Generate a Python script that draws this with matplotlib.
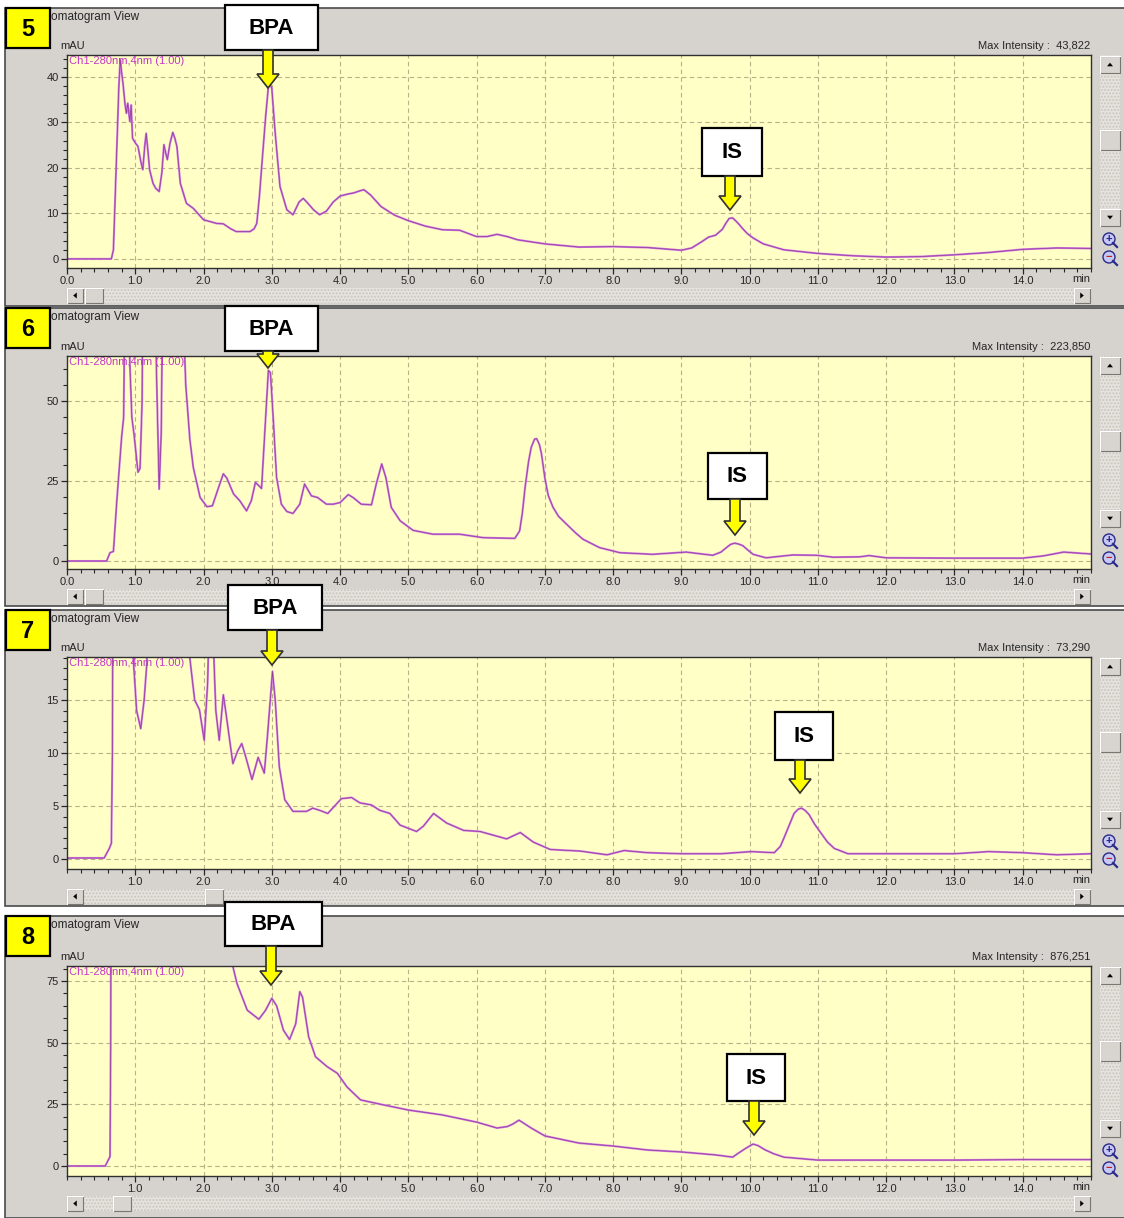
import matplotlib
matplotlib.use("Agg")
import numpy as np
import matplotlib.pyplot as plt
from matplotlib.patches import Rectangle, Polygon, Circle

W, H = 1124, 1218
plt.rcParams['font.family'] = ['Liberation Sans', 'DejaVu Sans']

# ---- chromatogram traces (retention time in min, signal in mAU) ----
rt5 = [0.0, 0.65, 0.68, 0.72, 0.76, 0.78, 0.80, 0.82, 0.85, 0.87, 0.89, 0.92, 0.94, 0.96,
       1.00, 1.04, 1.08, 1.11, 1.14, 1.16, 1.19, 1.21, 1.26, 1.30, 1.35, 1.39, 1.42, 1.45,
       1.47, 1.51, 1.55, 1.58, 1.61, 1.66, 1.75, 1.85, 2.00, 2.19, 2.29, 2.40, 2.48, 2.68,
       2.74, 2.78, 2.82, 2.85, 2.91, 2.95, 2.98, 3.00, 3.05, 3.12, 3.22, 3.31, 3.40, 3.46,
       3.53, 3.61, 3.70, 3.80, 3.90, 4.00, 4.10, 4.20, 4.30, 4.35, 4.45, 4.60, 4.80, 5.00,
       5.25, 5.50, 5.75, 6.00, 6.15, 6.30, 6.45, 6.60, 7.00, 7.50, 8.00, 8.50, 9.00, 9.15,
       9.30, 9.40, 9.50, 9.60, 9.65, 9.70, 9.75, 9.80, 9.85, 9.90, 9.97, 10.05, 10.20,
       10.50, 11.00, 11.50, 12.00, 12.50, 13.00, 13.50, 14.00, 14.50, 15.00]
mau5 = [0, 0, 2, 20, 38, 43.8, 41, 38.6, 34, 32, 34.2, 30.2, 33.8, 26.5,
        25.5, 24.7, 21.5, 19.6, 25, 27.6, 23, 19.6, 16.6, 15.5, 14.8, 19, 25.1, 23,
        21.8, 25.5, 27.8, 26.5, 24.7, 16.6, 12.2, 11.1, 8.6, 7.8, 7.7, 6.6, 6.0, 6.0,
        6.6, 7.8, 14, 19.9, 31.3, 37.9, 38.2, 37.5, 27.6, 15.9, 10.8, 9.7, 12.5, 13.3,
        12.2, 10.8, 9.7, 10.5, 12.5, 13.8, 14.2, 14.5, 15.0, 15.2, 14, 11.5, 9.6, 8.4,
        7.2, 6.4, 6.3, 4.9, 4.9, 5.4, 4.9, 4.2, 3.3, 2.6, 2.7, 2.5, 1.9, 2.4,
        3.8, 4.8, 5.2, 6.5, 7.8, 8.9, 9.0, 8.3, 7.5, 6.6, 5.5, 4.6, 3.3,
        2.0, 1.2, 0.7, 0.4, 0.5, 0.9, 1.4, 2.1, 2.4, 2.3]

rt6 = [0.0, 0.58, 0.63, 0.68, 0.73, 0.80, 0.83, 0.86, 0.88, 0.90, 0.92, 0.95, 0.98, 1.04,
       1.07, 1.10, 1.13, 1.17, 1.22, 1.26, 1.31, 1.35, 1.38, 1.42, 1.50, 1.60, 1.68, 1.74,
       1.80, 1.85, 1.95, 2.05, 2.13, 2.22, 2.29, 2.34, 2.44, 2.53, 2.63, 2.70, 2.76, 2.81,
       2.85, 2.91, 2.95, 2.98, 3.02, 3.07, 3.14, 3.22, 3.31, 3.41, 3.48, 3.58, 3.67, 3.80,
       3.90, 4.00, 4.12, 4.19, 4.31, 4.46, 4.53, 4.61, 4.67, 4.75, 4.88, 5.07, 5.36, 5.75,
       6.10, 6.56, 6.63, 6.67, 6.71, 6.76, 6.80, 6.85, 6.88, 6.92, 6.95, 7.00, 7.05, 7.12,
       7.20, 7.32, 7.45, 7.56, 7.80, 8.10, 8.58, 9.07, 9.30, 9.46, 9.58, 9.66, 9.72, 9.78,
       9.84, 9.90, 9.97, 10.05, 10.24, 10.63, 10.98, 11.22, 11.61, 11.75, 12.00, 13.00,
       14.00, 14.30, 14.60, 15.00]
mau6 = [0, 0, 2.6, 3.0, 18.9, 38.8, 45, 110, 223.85, 120, 62, 45, 40, 27.8,
        29, 50, 140, 100, 80, 130, 60, 22.5, 40, 120, 150, 110, 90, 55,
        38, 29.3, 19.9, 17, 17.3, 23, 27.3, 26, 21, 18.9, 15.7, 18.9, 24.6, 23.6,
        22.7, 45, 59.7, 59, 45, 26.2, 17.8, 15.5, 14.9, 17.8, 24.1, 20.4, 19.9, 17.8,
        17.8, 18.3, 20.8, 19.9, 17.8, 17.6, 24.1, 30.4, 26.2, 16.8, 12.6, 9.6, 8.4, 8.4,
        7.3, 7.1, 9.4, 15, 23, 31, 35.6, 38.2, 38.3, 36.5, 33.6, 26, 20.5, 16.8,
        14, 11.5, 8.8, 6.8, 4.2, 2.6, 2.1, 2.8, 2.2, 1.8, 2.8, 4.2, 5.2, 5.6,
        5.3, 4.8, 3.5, 2.1, 1.0, 1.9, 1.8, 1.2, 1.3, 1.7, 1.0, 0.9,
        0.9, 1.6, 2.8, 2.2]

rt7 = [0.0, 0.545, 0.62, 0.65, 0.665, 0.68, 0.72, 0.78, 0.84, 0.92, 0.97, 1.02, 1.08, 1.13,
       1.17, 1.19, 1.30, 1.45, 1.60, 1.72, 1.79, 1.82, 1.87, 1.94, 2.01, 2.06, 2.08, 2.11,
       2.14, 2.18, 2.23, 2.29, 2.33, 2.43, 2.50, 2.56, 2.62, 2.71, 2.80, 2.89, 2.94, 3.01,
       3.05, 3.11, 3.19, 3.31, 3.51, 3.60, 3.70, 3.82, 4.02, 4.17, 4.29, 4.46, 4.58, 4.73,
       4.88, 5.12, 5.22, 5.37, 5.56, 5.81, 6.05, 6.44, 6.64, 6.83, 7.08, 7.52, 7.91, 8.16,
       8.50, 8.99, 9.58, 10.02, 10.36, 10.45, 10.51, 10.58, 10.65, 10.71, 10.76, 10.81,
       10.87, 10.95, 11.05, 11.14, 11.24, 11.44, 12.00, 13.00, 13.50, 14.00, 14.50, 15.00]
mau7 = [0.1, 0.1, 1.0, 1.5, 10, 40, 73.29, 45, 60, 40, 19, 14, 12.3, 15,
        18.5, 30, 55, 40, 50, 30, 19.5, 17.8, 15, 14.1, 11.2, 16.6, 22, 30,
        21, 14, 11.2, 15.5, 13.7, 9.0, 10.2, 10.9, 9.6, 7.5, 9.6, 8.1, 11.9, 17.7,
        15.0, 8.7, 5.6, 4.5, 4.5, 4.8, 4.6, 4.3, 5.7, 5.8, 5.3, 5.1, 4.6, 4.3,
        3.2, 2.6, 3.1, 4.3, 3.4, 2.7, 2.6, 1.9, 2.5, 1.6, 0.9, 0.75, 0.4, 0.8,
        0.6, 0.5, 0.5, 0.7, 0.6, 1.2, 2.1, 3.2, 4.3, 4.7, 4.8, 4.6,
        4.2, 3.3, 2.4, 1.6, 1.0, 0.5, 0.5, 0.5, 0.7, 0.6, 0.4, 0.5]

rt8 = [0.0, 0.56, 0.63, 0.64, 0.66, 0.75, 1.20, 1.80, 2.20, 2.42, 2.49, 2.64, 2.81, 2.91,
       3.00, 3.07, 3.17, 3.26, 3.35, 3.41, 3.45, 3.54, 3.64, 3.81, 3.96, 4.10, 4.30, 4.60,
       5.00, 5.50, 6.00, 6.30, 6.45, 6.53, 6.62, 6.80, 7.00, 7.50, 8.00, 8.50, 9.00, 9.50,
       9.75, 9.85, 9.95, 10.05, 10.12, 10.23, 10.35, 10.50, 11.00, 12.00, 13.00, 14.00, 15.00]
mau8 = [0, 0, 3.8, 48, 300, 876.25, 500, 200, 110, 82, 74, 63.2, 59.5, 63.2,
        68, 65, 55.1, 51.3, 57.6, 70.7, 68.5, 52.4, 44.3, 40.3, 37.6, 32.1, 26.8, 25,
        22.7, 20.7, 17.8, 15.4, 16.0, 17, 18.6, 15.4, 12.2, 9.3, 8.1, 6.5, 5.7, 4.5,
        3.6, 5.5, 7.3, 8.9, 8.3, 6.5, 5.0, 3.6, 2.4, 2.4, 2.4, 2.6, 2.6]

sample_ids = ['5', '6', '7', '8']
max_intensity = ['43,822', '223,850', '73,290', '876,251']

# ---- screen layout of each chromatogram window (pixels) ----
panels = [
    dict(rt=rt5, y=mau5, frame=(8, 306), plot=(55, 268), ylim=(-2.0, 44.8),
         yt=[0, 10, 20, 30, 40], ym=2, xt=range(0, 15), thumb=85,
         bpa=(225, 5, 318, 50, 268, 88), is_=(702, 128, 762, 176, 730, 210)),
    dict(rt=rt6, y=mau6, frame=(308, 606), plot=(356, 569), ylim=(-2.5, 64.2),
         yt=[0, 25, 50], ym=5, xt=range(0, 15), thumb=85,
         bpa=(225, 306, 318, 351, 268, 368), is_=(708, 453, 767, 499, 735, 535)),
    dict(rt=rt7, y=mau7, frame=(610, 906), plot=(657, 869), ylim=(-0.94, 19.06),
         yt=[0, 5, 10, 15], ym=1, xt=range(1, 15), thumb=205,
         bpa=(228, 585, 322, 630, 272, 665), is_=(775, 712, 833, 760, 800, 793)),
    dict(rt=rt8, y=mau8, frame=(916, 1218), plot=(966, 1176), ylim=(-4.05, 81.1),
         yt=[0, 25, 50, 75], ym=5, xt=range(1, 15), thumb=113,
         bpa=(225, 902, 322, 946, 271, 985), is_=(727, 1054, 785, 1101, 754, 1135)),
]

X0, X1 = 67, 1091
GREY = '#d6d3ce'
TXT = '#262626'

fig = plt.figure(figsize=(W / 100, H / 100), dpi=100)
fig.patch.set_facecolor('white')

bg = fig.add_axes([0, 0, 1, 1], zorder=0)
bg.set_xlim(0, W); bg.set_ylim(H, 0); bg.axis('off')
fg = fig.add_axes([0, 0, 1, 1], zorder=20)
fg.set_xlim(0, W); fg.set_ylim(H, 0); fg.axis('off')
fg.patch.set_alpha(0)


def button(x0, y0, w, h):
    bg.add_patch(Rectangle((x0, y0), w, h, facecolor='#d8d5d0', edgecolor='#7a7770', lw=0.8))
    bg.plot([x0, x0 + w], [y0, y0], color='white', lw=0.8)
    bg.plot([x0, x0], [y0, y0 + h], color='white', lw=0.8)


def tri(cx, cy, d, s=3):
    if d == 'l':
        pts = [(cx + s * 0.6, cy - s), (cx + s * 0.6, cy + s), (cx - s * 0.6, cy)]
    elif d == 'r':
        pts = [(cx - s * 0.6, cy - s), (cx - s * 0.6, cy + s), (cx + s * 0.6, cy)]
    elif d == 'u':
        pts = [(cx - s, cy + s * 0.6), (cx + s, cy + s * 0.6), (cx, cy - s * 0.6)]
    else:
        pts = [(cx - s, cy - s * 0.6), (cx + s, cy - s * 0.6), (cx, cy + s * 0.6)]
    bg.add_patch(Polygon(pts, closed=True, facecolor='black', edgecolor='none'))


def label_box(x0, y0, x1, y1, text, cx, tip):
    fg.add_patch(Rectangle((x0, y0), x1 - x0, y1 - y0, facecolor='white',
                           edgecolor='black', lw=1.6))
    fg.text((x0 + x1) / 2, (y0 + y1) / 2 + 1, text, ha='center', va='center',
            fontsize=16, fontweight='bold', color='black')
    hl = 14
    arrow = [(cx - 5, y1), (cx + 5, y1), (cx + 5, tip - hl), (cx + 11, tip - hl),
             (cx, tip), (cx - 11, tip - hl), (cx - 5, tip - hl)]
    fg.add_patch(Polygon(arrow, closed=True, facecolor='#ffff00', edgecolor='#303030', lw=1.2))


for i, p in enumerate(panels):
    ft, fb = p['frame']
    pt, pb = p['plot']

    # window background
    bg.add_patch(Rectangle((5, ft), W - 4, fb - ft, facecolor=GREY, edgecolor='#4a4a4a', lw=1.2))
    bg.text(32, ft + 9, 'Chromatogram View', fontsize=8.5, color=TXT, ha='left', va='center')
    bg.text(60, pt - 9, 'mAU', fontsize=8, color=TXT, ha='left', va='center')
    bg.text(X1 - 1, pt - 9, 'Max Intensity :  ' + max_intensity[i], fontsize=8,
            color=TXT, ha='right', va='center')
    bg.text(X1 - 1, pb + 11, 'min', fontsize=8, color=TXT, ha='right', va='center')

    # horizontal scroll bar
    sy = pb + 20
    bg.add_patch(Rectangle((X0, sy), X1 - X0, 15, facecolor='#e6e3de', edgecolor='#c9c5be',
                           hatch='.....', lw=0))
    button(X0, sy, 16, 15); tri(X0 + 8, sy + 7.5, 'l')
    button(p['thumb'], sy, 18, 15)
    button(X1 - 17, sy, 16, 15); tri(X1 - 9, sy + 7.5, 'r')

    # vertical scroll bar and zoom buttons
    vx = 1100
    bg.add_patch(Rectangle((vx, pt), 20, 172, facecolor='#e6e3de', edgecolor='#c9c5be',
                           hatch='.....', lw=0))
    button(vx, pt + 1, 20, 17); tri(vx + 10, pt + 9.5, 'u')
    button(vx, pt + 75, 20, 20)
    button(vx, pt + 154, 20, 17); tri(vx + 10, pt + 162.5, 'd')
    for k, (sym, col) in enumerate([('+', '#202080'), ('\u2212', '#c02020')]):
        cy = pt + 184 + k * 18
        bg.add_patch(Circle((vx + 9, cy), 6, facecolor='#c8c8f4', edgecolor='#2a2a8a', lw=1.0))
        bg.plot([vx + 13, vx + 17], [cy + 4, cy + 8], color='#2a2a8a', lw=1.6)
        bg.text(vx + 9, cy, sym, fontsize=8, color=col, ha='center', va='center',
                fontweight='bold')

    # sample number tag
    fg.add_patch(Rectangle((6, ft), 44, 40, facecolor='#ffff00', edgecolor='black', lw=1.6))
    fg.text(28, ft + 21, sample_ids[i], fontsize=17, fontweight='bold', ha='center',
            va='center', color='black')

    # chromatogram axes
    ax = fig.add_axes([X0 / W, 1 - pb / H, (X1 - X0) / W, (pb - pt) / H], zorder=5)
    ax.set_facecolor('#ffffc6')
    ax.plot(p['rt'], p['y'], color='#d27ae2', lw=1.5, solid_joinstyle='round')
    ax.plot(p['rt'], p['y'], color='#86348f', lw=0.55, alpha=0.85, solid_joinstyle='round')
    ax.set_xlim(0, 15)
    ax.set_ylim(*p['ylim'])
    xt = list(p['xt'])
    ax.set_xticks(xt)
    ax.set_xticklabels([f'{v:.1f}' for v in xt])
    ax.set_xticks(np.arange(0, 15.01, 0.2), minor=True)
    ax.set_yticks(p['yt'])
    ax.set_yticks(np.arange(0, p['ylim'][1], p['ym']), minor=True)
    ax.grid(which='major', color='#b9b185', lw=0.8, ls=(0, (4, 3)))
    ax.tick_params(which='major', direction='out', length=4, width=0.9, labelsize=8,
                   colors=TXT, pad=2)
    ax.tick_params(which='minor', direction='out', length=3, width=0.8, colors=TXT)
    for s in ax.spines.values():
        s.set_color('#303030'); s.set_linewidth(1.0)
    ax.text(0.002, 0.995, 'Ch1-280nm,4nm (1.00)', transform=ax.transAxes, fontsize=8,
            color='#c436c8', ha='left', va='top')

    label_box(*p['bpa'][:4], 'BPA', *p['bpa'][4:])
    label_box(*p['is_'][:4], 'IS', *p['is_'][4:])

fig.savefig('out.png', dpi=100)
